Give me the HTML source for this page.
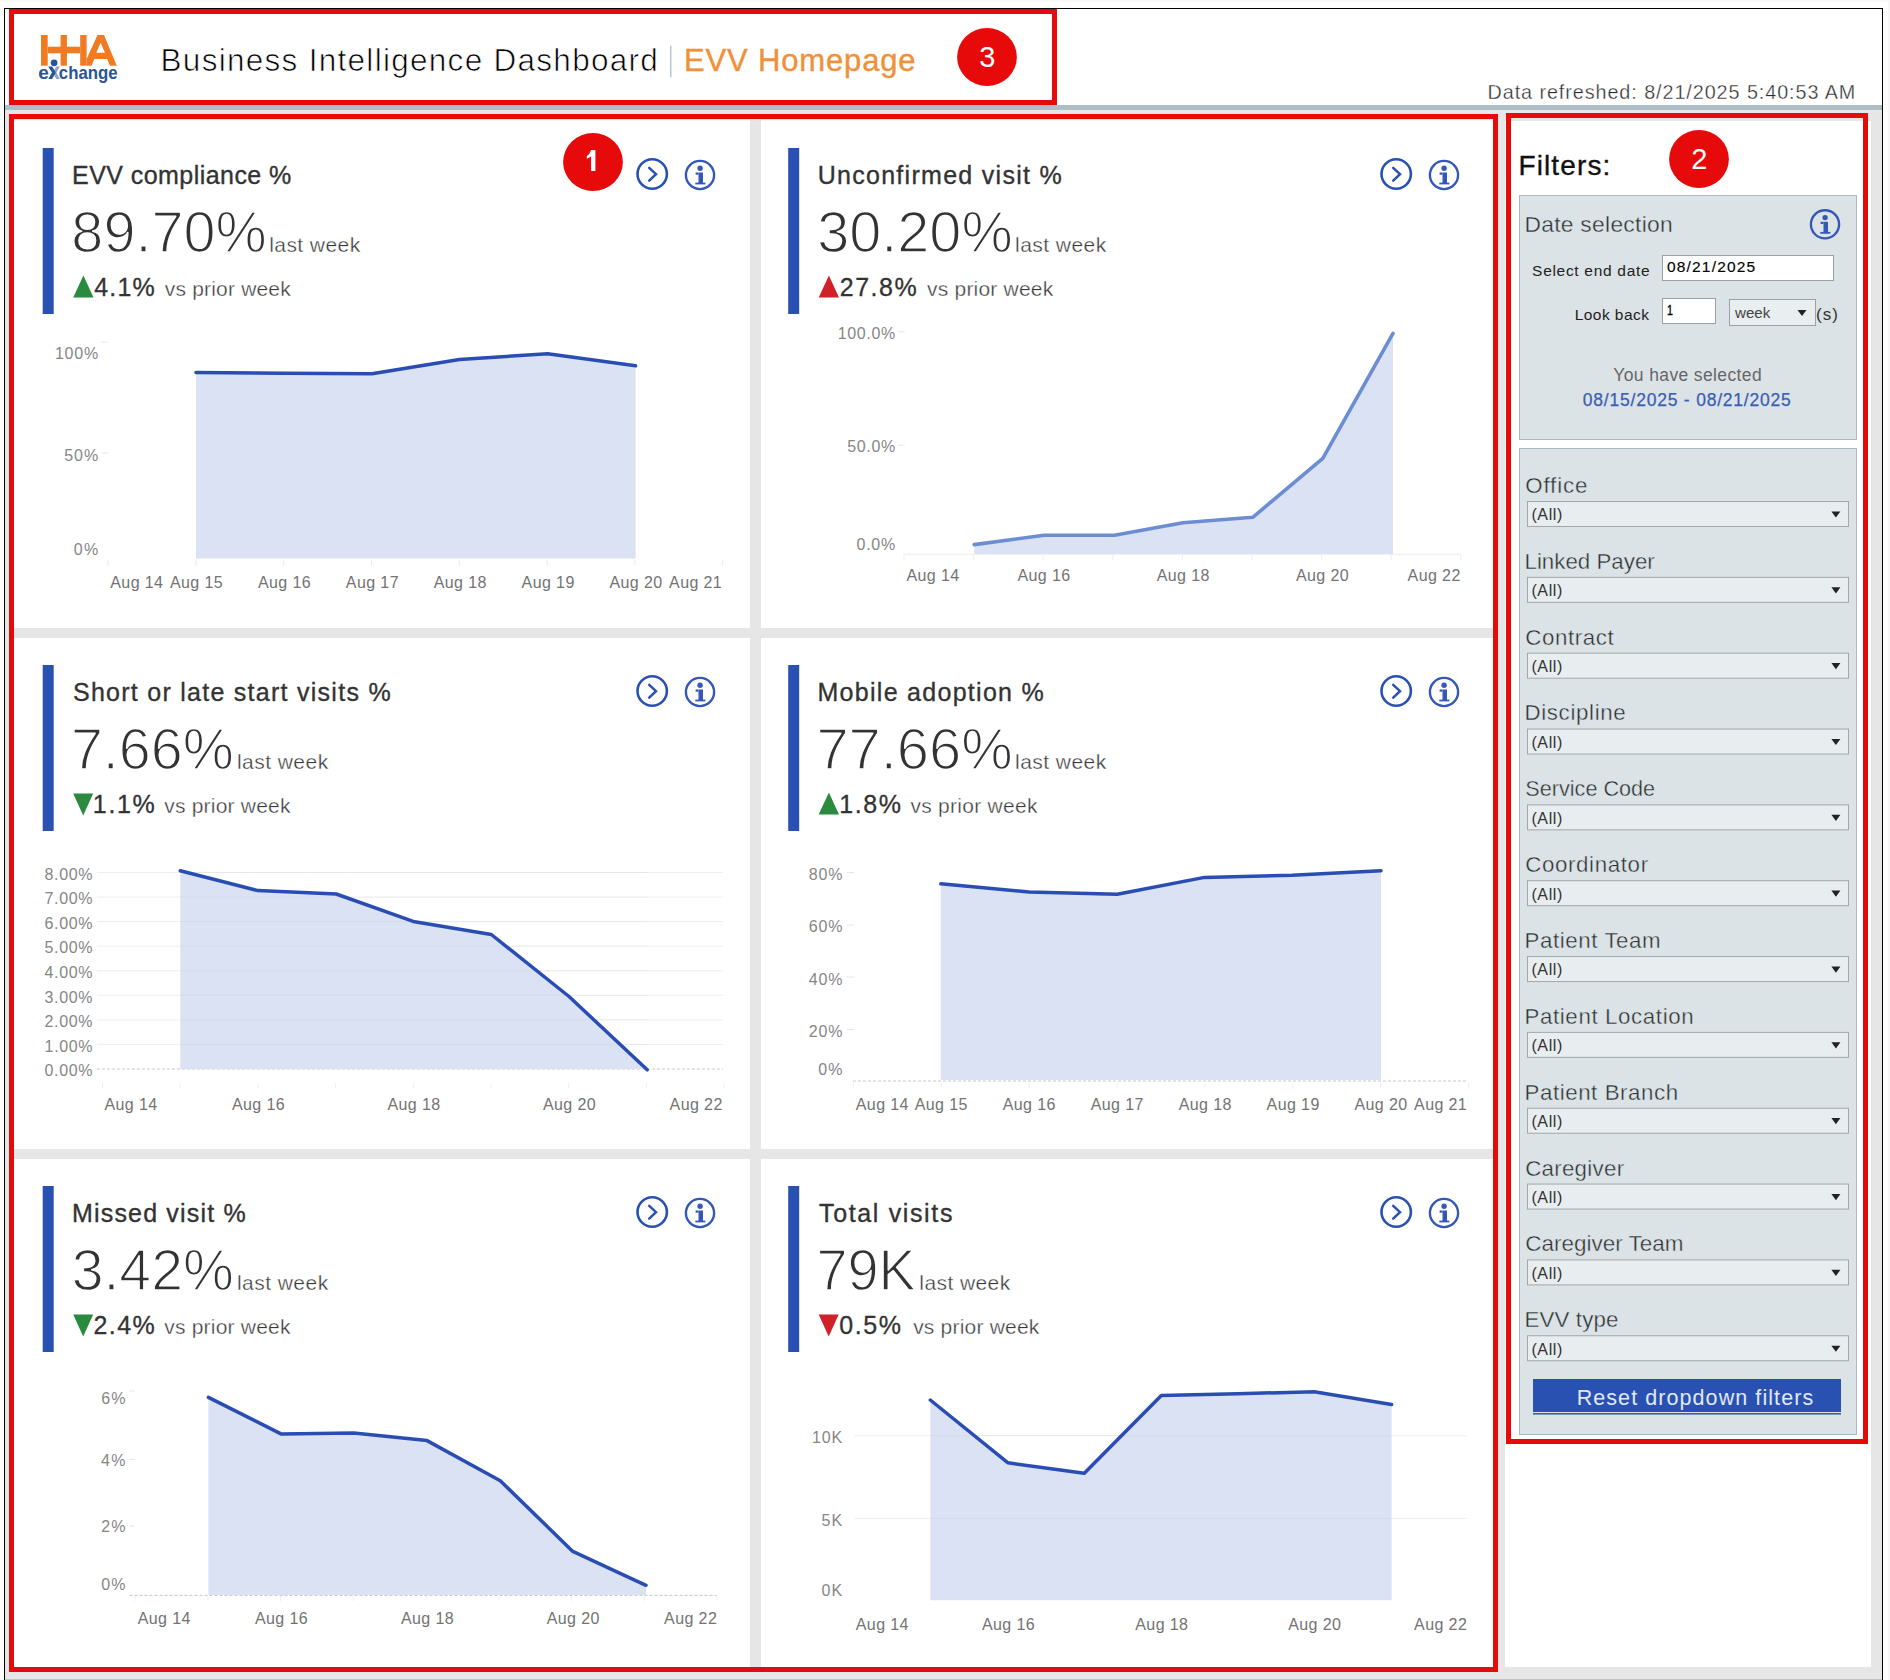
<!DOCTYPE html>
<html><head><meta charset="utf-8"><title>EVV Homepage</title>
<style>
html,body{margin:0;padding:0;background:#fff;width:1890px;height:1680px;overflow:hidden}
svg{display:block;font-family:"Liberation Sans", sans-serif}
</style></head><body>
<svg width="1890" height="1680" viewBox="0 0 1890 1680">
<defs><filter id="soft" x="-20%" y="-20%" width="140%" height="140%"><feGaussianBlur stdDeviation="0.35"/></filter></defs>
<rect x="0" y="0" width="1890.00" height="1680.00" fill="#ffffff"/>
<rect x="0" y="0" width="1890.00" height="2.00" fill="#f7f7f7"/>
<rect x="1888" y="0" width="2.00" height="1680.00" fill="#f7f7f7"/>
<rect x="4" y="8" width="1879.00" height="1672.00" fill="#000000"/>
<rect x="5" y="9" width="1877.00" height="1671.00" fill="#ffffff"/>
<rect x="5" y="105" width="1877.00" height="5.00" fill="#adbfc5"/>
<rect x="5" y="110" width="1877.00" height="1569.00" fill="#e6e6e6"/>
<rect x="5" y="1679" width="1877.00" height="1.00" fill="#b8c6cc"/>
<rect x="14" y="120" width="736.00" height="508.00" fill="#ffffff"/>
<rect x="14" y="638" width="736.00" height="511.00" fill="#ffffff"/>
<rect x="14" y="1159" width="736.00" height="508.00" fill="#ffffff"/>
<rect x="761" y="120" width="736.00" height="508.00" fill="#ffffff"/>
<rect x="761" y="638" width="736.00" height="511.00" fill="#ffffff"/>
<rect x="761" y="1159" width="736.00" height="508.00" fill="#ffffff"/>
<rect x="1505" y="121" width="366.00" height="1546.00" fill="#ffffff"/>
<g fill="#f07b22">
<rect x="41" y="35" width="6.70" height="30.70" fill="#f07b22"/>
<rect x="60.6" y="35" width="6.30" height="30.70" fill="#f07b22"/>
<rect x="80.2" y="35" width="6.40" height="30.70" fill="#f07b22"/>
<rect x="47.7" y="46.7" width="32.50" height="6.60" fill="#f07b22"/>
<path fill-rule="evenodd" d="M97.5 35 L104 35 L116.8 65.7 L110 65.7 L107.2 58.9 L94.3 58.9 L91.5 65.7 L86.6 65.7 L86.6 59 Z M100.6 42.8 L105 52.8 L96.3 52.8 Z"/>
</g>
<circle cx="54.1" cy="62.8" r="3.4" fill="#2a5592"/>
<text x="38.26" y="79.0" font-size="19" fill="#2a5592" font-weight="700" textLength="10.69" lengthAdjust="spacing">e</text>
<text x="58.84" y="79.0" font-size="18.5" fill="#2a5592" font-weight="700" textLength="58.73" lengthAdjust="spacingAndGlyphs">change</text>
<polygon points="56.3,66.5 59.9,66.5 56.4,72.6 59.9,78.9 56.3,78.9 52.8,72.6" fill="#8fa6cc"/>
<polygon points="48.2,66.5 52.1,66.5 55.8,72.6 52.1,78.9 48.3,78.9 52.0,72.6" fill="#2a5592"/>
<text x="160.57" y="70.5" font-size="31.5" fill="#000000" font-weight="400" textLength="497.31" lengthAdjust="spacing" stroke="#ffffff" stroke-width="0.7" stroke-linejoin="round">Business Intelligence Dashboard</text>
<rect x="670" y="45.7" width="1.50" height="31.60" fill="#b5c6d8"/>
<text x="684.06" y="70.8" font-size="31" fill="#f0913a" font-weight="400" textLength="231.52" lengthAdjust="spacing" stroke="#f0913a" stroke-width="0.4">EVV Homepage</text>
<text x="1487.50" y="98.9" font-size="19.8" fill="#2a2a2a" font-weight="400" textLength="367.80" lengthAdjust="spacing" stroke="#ffffff" stroke-width="0.35" stroke-linejoin="round">Data refreshed: 8/21/2025 5:40:53 AM</text>
<rect x="42.7" y="148" width="11.00" height="166.00" fill="#2851b2"/>
<text x="72.02" y="183.9" font-size="25" fill="#333333" font-weight="400" textLength="219.29" lengthAdjust="spacing" stroke="#333333" stroke-width="0.35">EVV compliance %</text>
<text x="71.35" y="252.4" font-size="58" fill="#333333" font-weight="400" textLength="195.46" lengthAdjust="spacingAndGlyphs" stroke="#ffffff" stroke-width="1.5" stroke-linejoin="round">89.70%</text>
<text x="269.21" y="252.4" font-size="21" fill="#383838" font-weight="400" textLength="90.93" lengthAdjust="spacing" stroke="#ffffff" stroke-width="0.35" stroke-linejoin="round">last week</text>
<polygon points="73.2,297.6 83.4,275.6 93.5,297.6" fill="#2a8a3e"/>
<text x="94.28" y="296.0" font-size="25" fill="#333333" font-weight="400" textLength="60.46" lengthAdjust="spacing" stroke="#333333" stroke-width="0.3">4.1%</text>
<text x="164.75" y="296.0" font-size="21" fill="#383838" font-weight="400" textLength="125.99" lengthAdjust="spacing" stroke="#ffffff" stroke-width="0.35" stroke-linejoin="round">vs prior week</text>
<circle cx="652.2" cy="174" r="14.7" fill="none" stroke="#2851b2" stroke-width="2.6"/>
<polyline points="649.2,167.9 656.0,174.2 649.2,180.7" fill="none" stroke="#2851b2" stroke-width="2.5" stroke-linecap="round" stroke-linejoin="miter"/>
<g fill="#3558b8" filter="url(#soft)">
<circle cx="700" cy="175" r="14.1" fill="none" stroke="#3558b8" stroke-width="2.4"/>
<circle cx="700.1" cy="168.3" r="2.7"/>
<rect x="698.5" y="172.5" width="4.50" height="11.40" fill="#3558b8"/>
<rect x="695.6" y="172.5" width="2.90" height="2.20" fill="#3558b8"/>
<rect x="695.3" y="182.6" width="10.10" height="1.80" fill="#3558b8"/>
</g>
<rect x="788.2" y="148" width="11.00" height="166.00" fill="#2851b2"/>
<text x="817.65" y="183.9" font-size="25" fill="#333333" font-weight="400" textLength="244.07" lengthAdjust="spacing" stroke="#333333" stroke-width="0.35">Unconfirmed visit %</text>
<text x="817.15" y="252.4" font-size="58" fill="#333333" font-weight="400" textLength="195.55" lengthAdjust="spacingAndGlyphs" stroke="#ffffff" stroke-width="1.5" stroke-linejoin="round">30.20%</text>
<text x="1015.11" y="252.4" font-size="21" fill="#383838" font-weight="400" textLength="91.03" lengthAdjust="spacing" stroke="#ffffff" stroke-width="0.35" stroke-linejoin="round">last week</text>
<polygon points="818.7,297.6 828.9,275.6 839.0,297.6" fill="#d0202a"/>
<text x="839.79" y="296.0" font-size="25" fill="#333333" font-weight="400" textLength="76.95" lengthAdjust="spacing" stroke="#333333" stroke-width="0.3">27.8%</text>
<text x="927.05" y="296.0" font-size="21" fill="#383838" font-weight="400" textLength="126.19" lengthAdjust="spacing" stroke="#ffffff" stroke-width="0.35" stroke-linejoin="round">vs prior week</text>
<circle cx="1396.2" cy="174" r="14.7" fill="none" stroke="#2851b2" stroke-width="2.6"/>
<polyline points="1393.2,167.9 1400.0,174.2 1393.2,180.7" fill="none" stroke="#2851b2" stroke-width="2.5" stroke-linecap="round" stroke-linejoin="miter"/>
<g fill="#3558b8" filter="url(#soft)">
<circle cx="1444" cy="175" r="14.1" fill="none" stroke="#3558b8" stroke-width="2.4"/>
<circle cx="1444.1" cy="168.3" r="2.7"/>
<rect x="1442.5" y="172.5" width="4.50" height="11.40" fill="#3558b8"/>
<rect x="1439.6" y="172.5" width="2.90" height="2.20" fill="#3558b8"/>
<rect x="1439.3" y="182.6" width="10.10" height="1.80" fill="#3558b8"/>
</g>
<rect x="42.7" y="665" width="11.00" height="166.00" fill="#2851b2"/>
<text x="72.94" y="700.9" font-size="25" fill="#333333" font-weight="400" textLength="317.68" lengthAdjust="spacing" stroke="#333333" stroke-width="0.35">Short or late start visits %</text>
<text x="70.90" y="769.4" font-size="58" fill="#333333" font-weight="400" textLength="162.89" lengthAdjust="spacingAndGlyphs" stroke="#ffffff" stroke-width="1.5" stroke-linejoin="round">7.66%</text>
<text x="236.91" y="769.4" font-size="21" fill="#383838" font-weight="400" textLength="91.23" lengthAdjust="spacing" stroke="#ffffff" stroke-width="0.35" stroke-linejoin="round">last week</text>
<polygon points="73.2,793.6 93.2,793.6 83.2,815.6" fill="#2a8a3e"/>
<text x="92.85" y="813.0" font-size="25" fill="#333333" font-weight="400" textLength="61.90" lengthAdjust="spacing" stroke="#333333" stroke-width="0.3">1.1%</text>
<text x="164.25" y="813.0" font-size="21" fill="#383838" font-weight="400" textLength="126.19" lengthAdjust="spacing" stroke="#ffffff" stroke-width="0.35" stroke-linejoin="round">vs prior week</text>
<circle cx="652.2" cy="691" r="14.7" fill="none" stroke="#2851b2" stroke-width="2.6"/>
<polyline points="649.2,684.9 656.0,691.2 649.2,697.7" fill="none" stroke="#2851b2" stroke-width="2.5" stroke-linecap="round" stroke-linejoin="miter"/>
<g fill="#3558b8" filter="url(#soft)">
<circle cx="700" cy="692" r="14.1" fill="none" stroke="#3558b8" stroke-width="2.4"/>
<circle cx="700.1" cy="685.3" r="2.7"/>
<rect x="698.5" y="689.5" width="4.50" height="11.40" fill="#3558b8"/>
<rect x="695.6" y="689.5" width="2.90" height="2.20" fill="#3558b8"/>
<rect x="695.3" y="699.6" width="10.10" height="1.80" fill="#3558b8"/>
</g>
<rect x="788.2" y="665" width="11.00" height="166.00" fill="#2851b2"/>
<text x="817.52" y="700.9" font-size="25" fill="#333333" font-weight="400" textLength="226.19" lengthAdjust="spacing" stroke="#333333" stroke-width="0.35">Mobile adoption %</text>
<text x="816.38" y="769.4" font-size="58" fill="#333333" font-weight="400" textLength="196.33" lengthAdjust="spacingAndGlyphs" stroke="#ffffff" stroke-width="1.5" stroke-linejoin="round">77.66%</text>
<text x="1015.11" y="769.4" font-size="21" fill="#383838" font-weight="400" textLength="91.03" lengthAdjust="spacing" stroke="#ffffff" stroke-width="0.35" stroke-linejoin="round">last week</text>
<polygon points="818.7,814.6 828.9,792.6 839.0,814.6" fill="#2a8a3e"/>
<text x="839.15" y="813.0" font-size="25" fill="#333333" font-weight="400" textLength="61.80" lengthAdjust="spacing" stroke="#333333" stroke-width="0.3">1.8%</text>
<text x="910.45" y="813.0" font-size="21" fill="#383838" font-weight="400" textLength="126.99" lengthAdjust="spacing" stroke="#ffffff" stroke-width="0.35" stroke-linejoin="round">vs prior week</text>
<circle cx="1396.2" cy="691" r="14.7" fill="none" stroke="#2851b2" stroke-width="2.6"/>
<polyline points="1393.2,684.9 1400.0,691.2 1393.2,697.7" fill="none" stroke="#2851b2" stroke-width="2.5" stroke-linecap="round" stroke-linejoin="miter"/>
<g fill="#3558b8" filter="url(#soft)">
<circle cx="1444" cy="692" r="14.1" fill="none" stroke="#3558b8" stroke-width="2.4"/>
<circle cx="1444.1" cy="685.3" r="2.7"/>
<rect x="1442.5" y="689.5" width="4.50" height="11.40" fill="#3558b8"/>
<rect x="1439.6" y="689.5" width="2.90" height="2.20" fill="#3558b8"/>
<rect x="1439.3" y="699.6" width="10.10" height="1.80" fill="#3558b8"/>
</g>
<rect x="42.7" y="1186" width="11.00" height="166.00" fill="#2851b2"/>
<text x="72.02" y="1221.9" font-size="25" fill="#333333" font-weight="400" textLength="173.59" lengthAdjust="spacing" stroke="#333333" stroke-width="0.35">Missed visit %</text>
<text x="71.67" y="1290.4" font-size="58" fill="#333333" font-weight="400" textLength="162.12" lengthAdjust="spacingAndGlyphs" stroke="#ffffff" stroke-width="1.5" stroke-linejoin="round">3.42%</text>
<text x="236.91" y="1290.4" font-size="21" fill="#383838" font-weight="400" textLength="91.23" lengthAdjust="spacing" stroke="#ffffff" stroke-width="0.35" stroke-linejoin="round">last week</text>
<polygon points="73.2,1314.6 93.2,1314.6 83.2,1336.6" fill="#2a8a3e"/>
<text x="93.49" y="1334.0" font-size="25" fill="#333333" font-weight="400" textLength="61.25" lengthAdjust="spacing" stroke="#333333" stroke-width="0.3">2.4%</text>
<text x="164.25" y="1334.0" font-size="21" fill="#383838" font-weight="400" textLength="126.19" lengthAdjust="spacing" stroke="#ffffff" stroke-width="0.35" stroke-linejoin="round">vs prior week</text>
<circle cx="652.2" cy="1212" r="14.7" fill="none" stroke="#2851b2" stroke-width="2.6"/>
<polyline points="649.2,1205.9 656.0,1212.2 649.2,1218.7" fill="none" stroke="#2851b2" stroke-width="2.5" stroke-linecap="round" stroke-linejoin="miter"/>
<g fill="#3558b8" filter="url(#soft)">
<circle cx="700" cy="1213" r="14.1" fill="none" stroke="#3558b8" stroke-width="2.4"/>
<circle cx="700.1" cy="1206.3" r="2.7"/>
<rect x="698.5" y="1210.5" width="4.50" height="11.40" fill="#3558b8"/>
<rect x="695.6" y="1210.5" width="2.90" height="2.20" fill="#3558b8"/>
<rect x="695.3" y="1220.6" width="10.10" height="1.80" fill="#3558b8"/>
</g>
<rect x="788.2" y="1186" width="11.00" height="166.00" fill="#2851b2"/>
<text x="819.01" y="1221.9" font-size="25" fill="#333333" font-weight="400" textLength="133.41" lengthAdjust="spacing" stroke="#333333" stroke-width="0.35">Total visits</text>
<text x="816.49" y="1290.4" font-size="58" fill="#333333" font-weight="400" textLength="99.39" lengthAdjust="spacingAndGlyphs" stroke="#ffffff" stroke-width="1.5" stroke-linejoin="round">79K</text>
<text x="919.31" y="1290.4" font-size="21" fill="#383838" font-weight="400" textLength="90.83" lengthAdjust="spacing" stroke="#ffffff" stroke-width="0.35" stroke-linejoin="round">last week</text>
<polygon points="818.7,1314.6 838.7,1314.6 828.7,1336.6" fill="#d0202a"/>
<text x="839.27" y="1334.0" font-size="25" fill="#333333" font-weight="400" textLength="61.67" lengthAdjust="spacing" stroke="#333333" stroke-width="0.3">0.5%</text>
<text x="913.15" y="1334.0" font-size="21" fill="#383838" font-weight="400" textLength="126.19" lengthAdjust="spacing" stroke="#ffffff" stroke-width="0.35" stroke-linejoin="round">vs prior week</text>
<circle cx="1396.2" cy="1212" r="14.7" fill="none" stroke="#2851b2" stroke-width="2.6"/>
<polyline points="1393.2,1205.9 1400.0,1212.2 1393.2,1218.7" fill="none" stroke="#2851b2" stroke-width="2.5" stroke-linecap="round" stroke-linejoin="miter"/>
<g fill="#3558b8" filter="url(#soft)">
<circle cx="1444" cy="1213" r="14.1" fill="none" stroke="#3558b8" stroke-width="2.4"/>
<circle cx="1444.1" cy="1206.3" r="2.7"/>
<rect x="1442.5" y="1210.5" width="4.50" height="11.40" fill="#3558b8"/>
<rect x="1439.6" y="1210.5" width="2.90" height="2.20" fill="#3558b8"/>
<rect x="1439.3" y="1220.6" width="10.10" height="1.80" fill="#3558b8"/>
</g>
<line x1="101" y1="342.1" x2="108.3" y2="342.1" stroke="#e6e6e6" stroke-width="1"/>
<line x1="101" y1="453" x2="108.3" y2="453" stroke="#e6e6e6" stroke-width="1"/>
<line x1="108.1" y1="560" x2="108.1" y2="566" stroke="#ececec" stroke-width="1"/>
<line x1="195.89999999999998" y1="560" x2="195.89999999999998" y2="566" stroke="#ececec" stroke-width="1"/>
<line x1="283.7" y1="560" x2="283.7" y2="566" stroke="#ececec" stroke-width="1"/>
<line x1="371.5" y1="560" x2="371.5" y2="566" stroke="#ececec" stroke-width="1"/>
<line x1="459.29999999999995" y1="560" x2="459.29999999999995" y2="566" stroke="#ececec" stroke-width="1"/>
<line x1="547.1" y1="560" x2="547.1" y2="566" stroke="#ececec" stroke-width="1"/>
<line x1="634.9" y1="560" x2="634.9" y2="566" stroke="#ececec" stroke-width="1"/>
<line x1="722.7" y1="560" x2="722.7" y2="566" stroke="#ececec" stroke-width="1"/>
<text x="54.90" y="359.4" font-size="16" fill="#868686" font-weight="400" textLength="43.27" lengthAdjust="spacing">100%</text>
<text x="64.30" y="460.9" font-size="16" fill="#868686" font-weight="400" textLength="33.87" lengthAdjust="spacing">50%</text>
<text x="73.73" y="554.8" font-size="16" fill="#868686" font-weight="400" textLength="24.44" lengthAdjust="spacing">0%</text>
<polygon points="196.0,558.5 196.0,372.6 284.0,373.2 371.9,373.7 459.4,359.4 547.7,353.8 635.6,365.8 635.6,558.5" fill="#dae2f4"/>
<polyline points="196.0,372.6 284.0,373.2 371.9,373.7 459.4,359.4 547.7,353.8 635.6,365.8" fill="none" stroke="#2a4db3" stroke-width="3.5" stroke-linejoin="round" stroke-linecap="round"/>
<text x="110.27" y="588.0" font-size="16" fill="#737373" font-weight="400" textLength="52.72" lengthAdjust="spacing">Aug 14</text>
<text x="169.96" y="588.0" font-size="16" fill="#737373" font-weight="400" textLength="52.71" lengthAdjust="spacing">Aug 15</text>
<text x="257.88" y="588.0" font-size="16" fill="#737373" font-weight="400" textLength="52.71" lengthAdjust="spacing">Aug 16</text>
<text x="345.83" y="588.0" font-size="16" fill="#737373" font-weight="400" textLength="52.71" lengthAdjust="spacing">Aug 17</text>
<text x="433.68" y="588.0" font-size="16" fill="#737373" font-weight="400" textLength="52.71" lengthAdjust="spacing">Aug 18</text>
<text x="521.61" y="588.0" font-size="16" fill="#737373" font-weight="400" textLength="52.71" lengthAdjust="spacing">Aug 19</text>
<text x="609.44" y="588.0" font-size="16" fill="#737373" font-weight="400" textLength="52.71" lengthAdjust="spacing">Aug 20</text>
<text x="669.07" y="588.0" font-size="16" fill="#737373" font-weight="400" textLength="52.71" lengthAdjust="spacing">Aug 21</text>
<line x1="898" y1="331.8" x2="904.7" y2="331.8" stroke="#e6e6e6" stroke-width="1"/>
<line x1="898" y1="445.2" x2="904.7" y2="445.2" stroke="#e6e6e6" stroke-width="1"/>
<line x1="904" y1="554.2" x2="1460.7" y2="554.2" stroke="#ebebeb" stroke-width="1"/>
<line x1="904.0" y1="554" x2="904.0" y2="560" stroke="#efefef" stroke-width="1"/>
<line x1="973.6" y1="554" x2="973.6" y2="560" stroke="#efefef" stroke-width="1"/>
<line x1="1043.2" y1="554" x2="1043.2" y2="560" stroke="#efefef" stroke-width="1"/>
<line x1="1112.8" y1="554" x2="1112.8" y2="560" stroke="#efefef" stroke-width="1"/>
<line x1="1182.4" y1="554" x2="1182.4" y2="560" stroke="#efefef" stroke-width="1"/>
<line x1="1252.0" y1="554" x2="1252.0" y2="560" stroke="#efefef" stroke-width="1"/>
<line x1="1321.6" y1="554" x2="1321.6" y2="560" stroke="#efefef" stroke-width="1"/>
<line x1="1391.1999999999998" y1="554" x2="1391.1999999999998" y2="560" stroke="#efefef" stroke-width="1"/>
<line x1="1460.8" y1="554" x2="1460.8" y2="560" stroke="#efefef" stroke-width="1"/>
<text x="837.76" y="339.3" font-size="16" fill="#868686" font-weight="400" textLength="57.41" lengthAdjust="spacing">100.0%</text>
<text x="847.15" y="452.0" font-size="16" fill="#868686" font-weight="400" textLength="48.02" lengthAdjust="spacing">50.0%</text>
<text x="856.59" y="549.7" font-size="16" fill="#868686" font-weight="400" textLength="38.59" lengthAdjust="spacing">0.0%</text>
<polygon points="974.2,554 974.2,544.6 1044.0,535.3 1114.5,535.3 1183.0,522.7 1252.8,517.3 1322.8,458.4 1393.0,333.3 1393.0,554" fill="#dae2f4"/>
<polyline points="974.2,544.6 1044.0,535.3 1114.5,535.3 1183.0,522.7 1252.8,517.3 1322.8,458.4 1393.0,333.3" fill="none" stroke="#6d8dd2" stroke-width="3.6" stroke-linejoin="round" stroke-linecap="round"/>
<text x="906.47" y="581.2" font-size="16" fill="#737373" font-weight="400" textLength="52.72" lengthAdjust="spacing">Aug 14</text>
<text x="1017.48" y="581.2" font-size="16" fill="#737373" font-weight="400" textLength="52.71" lengthAdjust="spacing">Aug 16</text>
<text x="1156.68" y="581.2" font-size="16" fill="#737373" font-weight="400" textLength="52.71" lengthAdjust="spacing">Aug 18</text>
<text x="1295.94" y="581.2" font-size="16" fill="#737373" font-weight="400" textLength="52.71" lengthAdjust="spacing">Aug 20</text>
<text x="1407.60" y="581.2" font-size="16" fill="#737373" font-weight="400" textLength="52.71" lengthAdjust="spacing">Aug 22</text>
<line x1="96.9" y1="872.5" x2="723" y2="872.5" stroke="#efefef" stroke-width="1"/>
<line x1="96.9" y1="897.06" x2="723" y2="897.06" stroke="#efefef" stroke-width="1"/>
<line x1="96.9" y1="921.62" x2="723" y2="921.62" stroke="#efefef" stroke-width="1"/>
<line x1="96.9" y1="946.18" x2="723" y2="946.18" stroke="#efefef" stroke-width="1"/>
<line x1="96.9" y1="970.74" x2="723" y2="970.74" stroke="#efefef" stroke-width="1"/>
<line x1="96.9" y1="995.3" x2="723" y2="995.3" stroke="#efefef" stroke-width="1"/>
<line x1="96.9" y1="1019.86" x2="723" y2="1019.86" stroke="#efefef" stroke-width="1"/>
<line x1="96.9" y1="1044.42" x2="723" y2="1044.42" stroke="#efefef" stroke-width="1"/>
<line x1="96.9" y1="1069" x2="723" y2="1069" stroke="#c8c8c8" stroke-width="1" stroke-dasharray="3,2"/>
<line x1="102.5" y1="1083" x2="102.5" y2="1088" stroke="#efefef" stroke-width="1"/>
<line x1="180.2" y1="1083" x2="180.2" y2="1088" stroke="#efefef" stroke-width="1"/>
<line x1="257.9" y1="1083" x2="257.9" y2="1088" stroke="#efefef" stroke-width="1"/>
<line x1="335.6" y1="1083" x2="335.6" y2="1088" stroke="#efefef" stroke-width="1"/>
<line x1="413.3" y1="1083" x2="413.3" y2="1088" stroke="#efefef" stroke-width="1"/>
<line x1="491.0" y1="1083" x2="491.0" y2="1088" stroke="#efefef" stroke-width="1"/>
<line x1="568.7" y1="1083" x2="568.7" y2="1088" stroke="#efefef" stroke-width="1"/>
<line x1="646.4" y1="1083" x2="646.4" y2="1088" stroke="#efefef" stroke-width="1"/>
<line x1="724.1" y1="1083" x2="724.1" y2="1088" stroke="#efefef" stroke-width="1"/>
<text x="44.56" y="879.7" font-size="16" fill="#868686" font-weight="400" textLength="48.01" lengthAdjust="spacing">8.00%</text>
<text x="44.56" y="904.3" font-size="16" fill="#868686" font-weight="400" textLength="48.01" lengthAdjust="spacing">7.00%</text>
<text x="44.56" y="928.8" font-size="16" fill="#868686" font-weight="400" textLength="48.01" lengthAdjust="spacing">6.00%</text>
<text x="44.55" y="953.4" font-size="16" fill="#868686" font-weight="400" textLength="48.02" lengthAdjust="spacing">5.00%</text>
<text x="44.54" y="977.9" font-size="16" fill="#868686" font-weight="400" textLength="48.03" lengthAdjust="spacing">4.00%</text>
<text x="44.55" y="1002.5" font-size="16" fill="#868686" font-weight="400" textLength="48.02" lengthAdjust="spacing">3.00%</text>
<text x="44.56" y="1027.1" font-size="16" fill="#868686" font-weight="400" textLength="48.01" lengthAdjust="spacing">2.00%</text>
<text x="44.59" y="1051.6" font-size="16" fill="#868686" font-weight="400" textLength="47.98" lengthAdjust="spacing">1.00%</text>
<text x="44.55" y="1076.2" font-size="16" fill="#868686" font-weight="400" textLength="48.02" lengthAdjust="spacing">0.00%</text>
<polygon points="180.3,1069 180.3,870.7 258.0,890.6 336.2,894.0 413.2,921.4 491.3,934.5 569.0,996.5 647.2,1069.8 647.2,1069" fill="#dae2f4"/>
<polyline points="180.3,870.7 258.0,890.6 336.2,894.0 413.2,921.4 491.3,934.5 569.0,996.5 647.2,1069.8" fill="none" stroke="#2a4db3" stroke-width="3.5" stroke-linejoin="round" stroke-linecap="round"/>
<line x1="180.3" y1="872.5" x2="647.2" y2="872.5" stroke="rgba(80,90,120,0.05)" stroke-width="1"/>
<line x1="180.3" y1="897.06" x2="647.2" y2="897.06" stroke="rgba(80,90,120,0.05)" stroke-width="1"/>
<line x1="180.3" y1="921.62" x2="647.2" y2="921.62" stroke="rgba(80,90,120,0.05)" stroke-width="1"/>
<line x1="180.3" y1="946.18" x2="647.2" y2="946.18" stroke="rgba(80,90,120,0.05)" stroke-width="1"/>
<line x1="180.3" y1="970.74" x2="647.2" y2="970.74" stroke="rgba(80,90,120,0.05)" stroke-width="1"/>
<line x1="180.3" y1="995.3" x2="647.2" y2="995.3" stroke="rgba(80,90,120,0.05)" stroke-width="1"/>
<line x1="180.3" y1="1019.86" x2="647.2" y2="1019.86" stroke="rgba(80,90,120,0.05)" stroke-width="1"/>
<line x1="180.3" y1="1044.42" x2="647.2" y2="1044.42" stroke="rgba(80,90,120,0.05)" stroke-width="1"/>
<text x="104.47" y="1110.0" font-size="16" fill="#737373" font-weight="400" textLength="52.72" lengthAdjust="spacing">Aug 14</text>
<text x="231.98" y="1110.0" font-size="16" fill="#737373" font-weight="400" textLength="52.71" lengthAdjust="spacing">Aug 16</text>
<text x="387.48" y="1110.0" font-size="16" fill="#737373" font-weight="400" textLength="52.71" lengthAdjust="spacing">Aug 18</text>
<text x="542.94" y="1110.0" font-size="16" fill="#737373" font-weight="400" textLength="52.71" lengthAdjust="spacing">Aug 20</text>
<text x="669.60" y="1110.0" font-size="16" fill="#737373" font-weight="400" textLength="52.71" lengthAdjust="spacing">Aug 22</text>
<line x1="846.9" y1="872.5" x2="854.4" y2="872.5" stroke="#e6e6e6" stroke-width="1"/>
<line x1="846.9" y1="925.1" x2="854.4" y2="925.1" stroke="#e6e6e6" stroke-width="1"/>
<line x1="846.9" y1="977" x2="854.4" y2="977" stroke="#e6e6e6" stroke-width="1"/>
<line x1="846.9" y1="1029.6" x2="854.4" y2="1029.6" stroke="#e6e6e6" stroke-width="1"/>
<line x1="853" y1="1081" x2="1466.7" y2="1081" stroke="#c8c8c8" stroke-width="1" stroke-dasharray="3,2"/>
<line x1="853.3" y1="1083" x2="853.3" y2="1088" stroke="#efefef" stroke-width="1"/>
<line x1="941.1999999999999" y1="1083" x2="941.1999999999999" y2="1088" stroke="#efefef" stroke-width="1"/>
<line x1="1029.1" y1="1083" x2="1029.1" y2="1088" stroke="#efefef" stroke-width="1"/>
<line x1="1117.0" y1="1083" x2="1117.0" y2="1088" stroke="#efefef" stroke-width="1"/>
<line x1="1204.9" y1="1083" x2="1204.9" y2="1088" stroke="#efefef" stroke-width="1"/>
<line x1="1292.8" y1="1083" x2="1292.8" y2="1088" stroke="#efefef" stroke-width="1"/>
<line x1="1380.7" y1="1083" x2="1380.7" y2="1088" stroke="#efefef" stroke-width="1"/>
<line x1="1468.6" y1="1083" x2="1468.6" y2="1088" stroke="#efefef" stroke-width="1"/>
<text x="808.70" y="880.0" font-size="16" fill="#868686" font-weight="400" textLength="33.87" lengthAdjust="spacing">80%</text>
<text x="808.71" y="931.9" font-size="16" fill="#868686" font-weight="400" textLength="33.86" lengthAdjust="spacing">60%</text>
<text x="808.68" y="984.5" font-size="16" fill="#868686" font-weight="400" textLength="33.89" lengthAdjust="spacing">40%</text>
<text x="808.71" y="1036.7" font-size="16" fill="#868686" font-weight="400" textLength="33.86" lengthAdjust="spacing">20%</text>
<text x="818.13" y="1075.4" font-size="16" fill="#868686" font-weight="400" textLength="24.44" lengthAdjust="spacing">0%</text>
<polygon points="940.8,1080 940.8,883.8 1029.0,892.0 1117.3,894.3 1204.5,877.4 1292.0,875.2 1381.0,870.7 1381.0,1080" fill="#dae2f4"/>
<polyline points="940.8,883.8 1029.0,892.0 1117.3,894.3 1204.5,877.4 1292.0,875.2 1381.0,870.7" fill="none" stroke="#2a4db3" stroke-width="3.5" stroke-linejoin="round" stroke-linecap="round"/>
<text x="855.77" y="1110.0" font-size="16" fill="#737373" font-weight="400" textLength="52.72" lengthAdjust="spacing">Aug 14</text>
<text x="914.76" y="1110.0" font-size="16" fill="#737373" font-weight="400" textLength="52.71" lengthAdjust="spacing">Aug 15</text>
<text x="1002.73" y="1110.0" font-size="16" fill="#737373" font-weight="400" textLength="52.71" lengthAdjust="spacing">Aug 16</text>
<text x="1090.73" y="1110.0" font-size="16" fill="#737373" font-weight="400" textLength="52.71" lengthAdjust="spacing">Aug 17</text>
<text x="1178.63" y="1110.0" font-size="16" fill="#737373" font-weight="400" textLength="52.71" lengthAdjust="spacing">Aug 18</text>
<text x="1266.61" y="1110.0" font-size="16" fill="#737373" font-weight="400" textLength="52.71" lengthAdjust="spacing">Aug 19</text>
<text x="1354.49" y="1110.0" font-size="16" fill="#737373" font-weight="400" textLength="52.71" lengthAdjust="spacing">Aug 20</text>
<text x="1414.07" y="1110.0" font-size="16" fill="#737373" font-weight="400" textLength="52.71" lengthAdjust="spacing">Aug 21</text>
<line x1="129.5" y1="1391" x2="135" y2="1391" stroke="#e6e6e6" stroke-width="1"/>
<line x1="129.5" y1="1459.4" x2="135" y2="1459.4" stroke="#e6e6e6" stroke-width="1"/>
<line x1="129.5" y1="1525.9" x2="135" y2="1525.9" stroke="#e6e6e6" stroke-width="1"/>
<line x1="129.5" y1="1595.4" x2="716.7" y2="1595.4" stroke="#c8c8c8" stroke-width="1" stroke-dasharray="3,2"/>
<line x1="135.2" y1="1596" x2="135.2" y2="1601" stroke="#efefef" stroke-width="1"/>
<line x1="207.89999999999998" y1="1596" x2="207.89999999999998" y2="1601" stroke="#efefef" stroke-width="1"/>
<line x1="280.6" y1="1596" x2="280.6" y2="1601" stroke="#efefef" stroke-width="1"/>
<line x1="353.3" y1="1596" x2="353.3" y2="1601" stroke="#efefef" stroke-width="1"/>
<line x1="426.0" y1="1596" x2="426.0" y2="1601" stroke="#efefef" stroke-width="1"/>
<line x1="498.7" y1="1596" x2="498.7" y2="1601" stroke="#efefef" stroke-width="1"/>
<line x1="571.4000000000001" y1="1596" x2="571.4000000000001" y2="1601" stroke="#efefef" stroke-width="1"/>
<line x1="644.1" y1="1596" x2="644.1" y2="1601" stroke="#efefef" stroke-width="1"/>
<line x1="716.8" y1="1596" x2="716.8" y2="1601" stroke="#efefef" stroke-width="1"/>
<text x="101.14" y="1403.8" font-size="16" fill="#868686" font-weight="400" textLength="24.43" lengthAdjust="spacing">6%</text>
<text x="101.11" y="1465.8" font-size="16" fill="#868686" font-weight="400" textLength="24.46" lengthAdjust="spacing">4%</text>
<text x="101.14" y="1532.3" font-size="16" fill="#868686" font-weight="400" textLength="24.43" lengthAdjust="spacing">2%</text>
<text x="101.13" y="1589.8" font-size="16" fill="#868686" font-weight="400" textLength="24.44" lengthAdjust="spacing">0%</text>
<polygon points="208.4,1595 208.4,1397.4 281.0,1433.9 353.8,1433.1 427.0,1440.6 500.3,1480.8 572.8,1551.4 646.0,1585.3 646.0,1595" fill="#dae2f4"/>
<polyline points="208.4,1397.4 281.0,1433.9 353.8,1433.1 427.0,1440.6 500.3,1480.8 572.8,1551.4 646.0,1585.3" fill="none" stroke="#2a4db3" stroke-width="3.5" stroke-linejoin="round" stroke-linecap="round"/>
<text x="137.67" y="1624.3" font-size="16" fill="#737373" font-weight="400" textLength="52.72" lengthAdjust="spacing">Aug 14</text>
<text x="254.98" y="1624.3" font-size="16" fill="#737373" font-weight="400" textLength="52.71" lengthAdjust="spacing">Aug 16</text>
<text x="400.98" y="1624.3" font-size="16" fill="#737373" font-weight="400" textLength="52.71" lengthAdjust="spacing">Aug 18</text>
<text x="546.74" y="1624.3" font-size="16" fill="#737373" font-weight="400" textLength="52.71" lengthAdjust="spacing">Aug 20</text>
<text x="664.10" y="1624.3" font-size="16" fill="#737373" font-weight="400" textLength="52.71" lengthAdjust="spacing">Aug 22</text>
<line x1="854.4" y1="1435.7" x2="1466.7" y2="1435.7" stroke="#efefef" stroke-width="1"/>
<line x1="854.4" y1="1518.4" x2="1466.7" y2="1518.4" stroke="#efefef" stroke-width="1"/>
<text x="812.09" y="1442.5" font-size="16" fill="#868686" font-weight="400" textLength="30.09" lengthAdjust="spacing">10K</text>
<text x="821.48" y="1525.9" font-size="16" fill="#868686" font-weight="400" textLength="20.70" lengthAdjust="spacing">5K</text>
<text x="821.48" y="1596.1" font-size="16" fill="#868686" font-weight="400" textLength="20.70" lengthAdjust="spacing">0K</text>
<polygon points="930.3,1600.3 930.3,1400.0 1008.0,1462.8 1084.3,1473.3 1161.3,1395.5 1237.5,1393.7 1314.2,1391.8 1391.6,1404.6 1391.6,1600.3" fill="#dae2f4"/>
<polyline points="930.3,1400.0 1008.0,1462.8 1084.3,1473.3 1161.3,1395.5 1237.5,1393.7 1314.2,1391.8 1391.6,1404.6" fill="none" stroke="#2a4db3" stroke-width="3.5" stroke-linejoin="round" stroke-linecap="round"/>
<line x1="930.3" y1="1435.7" x2="1391.6" y2="1435.7" stroke="rgba(80,90,120,0.05)" stroke-width="1"/>
<line x1="930.3" y1="1518.4" x2="1391.6" y2="1518.4" stroke="rgba(80,90,120,0.05)" stroke-width="1"/>
<text x="855.77" y="1630.0" font-size="16" fill="#737373" font-weight="400" textLength="52.72" lengthAdjust="spacing">Aug 14</text>
<text x="981.98" y="1630.0" font-size="16" fill="#737373" font-weight="400" textLength="52.71" lengthAdjust="spacing">Aug 16</text>
<text x="1135.28" y="1630.0" font-size="16" fill="#737373" font-weight="400" textLength="52.71" lengthAdjust="spacing">Aug 18</text>
<text x="1288.14" y="1630.0" font-size="16" fill="#737373" font-weight="400" textLength="52.71" lengthAdjust="spacing">Aug 20</text>
<text x="1414.10" y="1630.0" font-size="16" fill="#737373" font-weight="400" textLength="52.71" lengthAdjust="spacing">Aug 22</text>
<text x="1518.38" y="175.0" font-size="28" fill="#111111" font-weight="400" textLength="92.00" lengthAdjust="spacing" stroke="#111111" stroke-width="0.35">Filters:</text>
<rect x="1519.5" y="195.5" width="337" height="244" fill="#dce3e6" stroke="#a9bbc2" stroke-width="1"/>
<rect x="1519.5" y="448.5" width="337" height="986" fill="#dce3e6" stroke="#a9bbc2" stroke-width="1"/>
<text x="1524.43" y="232.0" font-size="22.8" fill="#2e2e2e" font-weight="400" textLength="148.25" lengthAdjust="spacing" stroke="#dce3e6" stroke-width="0.4" stroke-linejoin="round">Date selection</text>
<g fill="#3558b8" filter="url(#soft)">
<circle cx="1825" cy="224.3" r="14.1" fill="none" stroke="#3558b8" stroke-width="2.4"/>
<circle cx="1825.1" cy="217.60000000000002" r="2.7"/>
<rect x="1823.5" y="221.8" width="4.50" height="11.40" fill="#3558b8"/>
<rect x="1820.6" y="221.8" width="2.90" height="2.20" fill="#3558b8"/>
<rect x="1820.3" y="231.9" width="10.10" height="1.80" fill="#3558b8"/>
</g>
<text x="1532.10" y="276.0" font-size="15.5" fill="#222222" font-weight="400" textLength="117.49" lengthAdjust="spacing">Select end date</text>
<rect x="1662.5" y="255.5" width="171" height="25" fill="#ffffff" stroke="#9aa2a6" stroke-width="1"/>
<text x="1666.97" y="272.2" font-size="15.5" fill="#000000" font-weight="400" textLength="88.21" lengthAdjust="spacing" stroke="#000000" stroke-width="0.15">08/21/2025</text>
<text x="1574.63" y="319.6" font-size="15.5" fill="#222222" font-weight="400" textLength="74.35" lengthAdjust="spacing">Look back</text>
<rect x="1662.5" y="298.5" width="53" height="25" fill="#ffffff" stroke="#9aa2a6" stroke-width="1"/>
<text x="1666.89" y="315.3" font-size="15.5" fill="#000000" font-weight="400" textLength="5.93" lengthAdjust="spacingAndGlyphs" stroke="#000000" stroke-width="0.4">1</text>
<rect x="1729.5" y="299.5" width="86" height="26" fill="#e9eef0" stroke="#9aa2a6" stroke-width="1"/>
<text x="1735.02" y="317.6" font-size="15.5" fill="#444444" font-weight="400" textLength="35.26" lengthAdjust="spacingAndGlyphs">week</text>
<polygon points="1797.5,310 1806.5,310 1802,316" fill="#222"/>
<text x="1815.95" y="320.2" font-size="17" fill="#333333" font-weight="400" textLength="21.91" lengthAdjust="spacing">(s)</text>
<text x="1613.32" y="380.9" font-size="17.5" fill="#666666" font-weight="400" textLength="148.31" lengthAdjust="spacing">You have selected</text>
<text x="1582.74" y="406.3" font-size="17.5" fill="#3a5db5" font-weight="400" textLength="208.07" lengthAdjust="spacing" stroke="#3a5db5" stroke-width="0.25">08/15/2025 - 08/21/2025</text>
<text x="1525.24" y="492.9" font-size="22.3" fill="#2e2e2e" font-weight="400" textLength="62.15" lengthAdjust="spacing" stroke="#dce3e6" stroke-width="0.4" stroke-linejoin="round">Office</text>
<rect x="1527.5" y="501.50" width="321" height="25" fill="#e8edef" stroke="#a3a7a9" stroke-width="1"/>
<text x="1531.41" y="520.3" font-size="16" fill="#333333" font-weight="400" textLength="30.98" lengthAdjust="spacing">(All)</text>
<polygon points="1831.4,511.4 1840.4,511.4 1835.9,517.6" fill="#222"/>
<text x="1524.47" y="568.7" font-size="22.3" fill="#2e2e2e" font-weight="400" textLength="130.30" lengthAdjust="spacing" stroke="#dce3e6" stroke-width="0.4" stroke-linejoin="round">Linked Payer</text>
<rect x="1527.5" y="577.34" width="321" height="25" fill="#e8edef" stroke="#a3a7a9" stroke-width="1"/>
<text x="1531.41" y="596.1" font-size="16" fill="#333333" font-weight="400" textLength="30.98" lengthAdjust="spacing">(All)</text>
<polygon points="1831.4,587.24 1840.4,587.24 1835.9,593.44" fill="#222"/>
<text x="1525.17" y="644.6" font-size="22.3" fill="#2e2e2e" font-weight="400" textLength="88.50" lengthAdjust="spacing" stroke="#dce3e6" stroke-width="0.4" stroke-linejoin="round">Contract</text>
<rect x="1527.5" y="653.18" width="321" height="25" fill="#e8edef" stroke="#a3a7a9" stroke-width="1"/>
<text x="1531.41" y="672.0" font-size="16" fill="#333333" font-weight="400" textLength="30.98" lengthAdjust="spacing">(All)</text>
<polygon points="1831.4,663.0799999999999 1840.4,663.0799999999999 1835.9,669.28" fill="#222"/>
<text x="1524.47" y="720.4" font-size="22.3" fill="#2e2e2e" font-weight="400" textLength="101.22" lengthAdjust="spacing" stroke="#dce3e6" stroke-width="0.4" stroke-linejoin="round">Discipline</text>
<rect x="1527.5" y="729.02" width="321" height="25" fill="#e8edef" stroke="#a3a7a9" stroke-width="1"/>
<text x="1531.41" y="747.8" font-size="16" fill="#333333" font-weight="400" textLength="30.98" lengthAdjust="spacing">(All)</text>
<polygon points="1831.4,738.92 1840.4,738.92 1835.9,745.12" fill="#222"/>
<text x="1525.32" y="796.3" font-size="22.3" fill="#2e2e2e" font-weight="400" textLength="129.84" lengthAdjust="spacingAndGlyphs" stroke="#dce3e6" stroke-width="0.4" stroke-linejoin="round">Service Code</text>
<rect x="1527.5" y="804.86" width="321" height="25" fill="#e8edef" stroke="#a3a7a9" stroke-width="1"/>
<text x="1531.41" y="823.7" font-size="16" fill="#333333" font-weight="400" textLength="30.98" lengthAdjust="spacing">(All)</text>
<polygon points="1831.4,814.76 1840.4,814.76 1835.9,820.96" fill="#222"/>
<text x="1525.17" y="872.1" font-size="22.3" fill="#2e2e2e" font-weight="400" textLength="122.90" lengthAdjust="spacing" stroke="#dce3e6" stroke-width="0.4" stroke-linejoin="round">Coordinator</text>
<rect x="1527.5" y="880.70" width="321" height="25" fill="#e8edef" stroke="#a3a7a9" stroke-width="1"/>
<text x="1531.41" y="899.5" font-size="16" fill="#333333" font-weight="400" textLength="30.98" lengthAdjust="spacing">(All)</text>
<polygon points="1831.4,890.6 1840.4,890.6 1835.9,896.8000000000001" fill="#222"/>
<text x="1524.47" y="947.9" font-size="22.3" fill="#2e2e2e" font-weight="400" textLength="136.20" lengthAdjust="spacing" stroke="#dce3e6" stroke-width="0.4" stroke-linejoin="round">Patient Team</text>
<rect x="1527.5" y="956.54" width="321" height="25" fill="#e8edef" stroke="#a3a7a9" stroke-width="1"/>
<text x="1531.41" y="975.3" font-size="16" fill="#333333" font-weight="400" textLength="30.98" lengthAdjust="spacing">(All)</text>
<polygon points="1831.4,966.44 1840.4,966.44 1835.9,972.6400000000001" fill="#222"/>
<text x="1524.47" y="1023.8" font-size="22.3" fill="#2e2e2e" font-weight="400" textLength="169.18" lengthAdjust="spacing" stroke="#dce3e6" stroke-width="0.4" stroke-linejoin="round">Patient Location</text>
<rect x="1527.5" y="1032.38" width="321" height="25" fill="#e8edef" stroke="#a3a7a9" stroke-width="1"/>
<text x="1531.41" y="1051.2" font-size="16" fill="#333333" font-weight="400" textLength="30.98" lengthAdjust="spacing">(All)</text>
<polygon points="1831.4,1042.28 1840.4,1042.28 1835.9,1048.48" fill="#222"/>
<text x="1524.47" y="1099.6" font-size="22.3" fill="#2e2e2e" font-weight="400" textLength="153.68" lengthAdjust="spacing" stroke="#dce3e6" stroke-width="0.4" stroke-linejoin="round">Patient Branch</text>
<rect x="1527.5" y="1108.22" width="321" height="25" fill="#e8edef" stroke="#a3a7a9" stroke-width="1"/>
<text x="1531.41" y="1127.0" font-size="16" fill="#333333" font-weight="400" textLength="30.98" lengthAdjust="spacing">(All)</text>
<polygon points="1831.4,1118.12 1840.4,1118.12 1835.9,1124.32" fill="#222"/>
<text x="1525.17" y="1175.5" font-size="22.3" fill="#2e2e2e" font-weight="400" textLength="98.90" lengthAdjust="spacing" stroke="#dce3e6" stroke-width="0.4" stroke-linejoin="round">Caregiver</text>
<rect x="1527.5" y="1184.06" width="321" height="25" fill="#e8edef" stroke="#a3a7a9" stroke-width="1"/>
<text x="1531.41" y="1202.9" font-size="16" fill="#333333" font-weight="400" textLength="30.98" lengthAdjust="spacing">(All)</text>
<polygon points="1831.4,1193.96 1840.4,1193.96 1835.9,1200.16" fill="#222"/>
<text x="1525.18" y="1251.3" font-size="22.3" fill="#2e2e2e" font-weight="400" textLength="158.28" lengthAdjust="spacingAndGlyphs" stroke="#dce3e6" stroke-width="0.4" stroke-linejoin="round">Caregiver Team</text>
<rect x="1527.5" y="1259.90" width="321" height="25" fill="#e8edef" stroke="#a3a7a9" stroke-width="1"/>
<text x="1531.41" y="1278.7" font-size="16" fill="#333333" font-weight="400" textLength="30.98" lengthAdjust="spacing">(All)</text>
<polygon points="1831.4,1269.8000000000002 1840.4,1269.8000000000002 1835.9,1276.0000000000002" fill="#222"/>
<text x="1524.47" y="1327.1" font-size="22.3" fill="#2e2e2e" font-weight="400" textLength="93.92" lengthAdjust="spacing" stroke="#dce3e6" stroke-width="0.4" stroke-linejoin="round">EVV type</text>
<rect x="1527.5" y="1335.74" width="321" height="25" fill="#e8edef" stroke="#a3a7a9" stroke-width="1"/>
<text x="1531.41" y="1354.5" font-size="16" fill="#333333" font-weight="400" textLength="30.98" lengthAdjust="spacing">(All)</text>
<polygon points="1831.4,1345.6399999999999 1840.4,1345.6399999999999 1835.9,1351.84" fill="#222"/>
<rect x="1533" y="1379" width="308.00" height="33.00" fill="#2851b2"/>
<rect x="1533" y="1413" width="308.00" height="1.60" fill="#3a5cb8"/>
<text x="1576.64" y="1405.0" font-size="21.5" fill="#e2e8f6" font-weight="400" textLength="236.54" lengthAdjust="spacing">Reset dropdown filters</text>
<rect x="11.5" y="11.5" width="1043" height="91" fill="none" stroke="#e60a0a" stroke-width="5"/>
<rect x="11.5" y="116.5" width="1484" height="1553" fill="none" stroke="#e60a0a" stroke-width="5"/>
<rect x="1508.5" y="115.5" width="357" height="1326" fill="none" stroke="#e60a0a" stroke-width="5"/>
<ellipse cx="593" cy="162" rx="29.9" ry="28.9" fill="#e60a0a"/>
<path d="M591.1 150 L595.4 150 L595.4 171 L591.1 171 L591.1 156.2 Q589.2 158 586.8 158.7 L586.8 156.0 Q589.8 154.4 591.1 150 Z" fill="#ffffff"/>
<ellipse cx="1699" cy="159" rx="29.9" ry="28.9" fill="#e60a0a"/>
<text x="1699.3" y="169.3" font-size="29" fill="#ffffff" font-weight="400" text-anchor="middle">2</text>
<ellipse cx="987" cy="57" rx="29.9" ry="28.9" fill="#e60a0a"/>
<text x="987.3" y="67.3" font-size="29" fill="#ffffff" font-weight="400" text-anchor="middle">3</text>
</svg>
</body></html>
